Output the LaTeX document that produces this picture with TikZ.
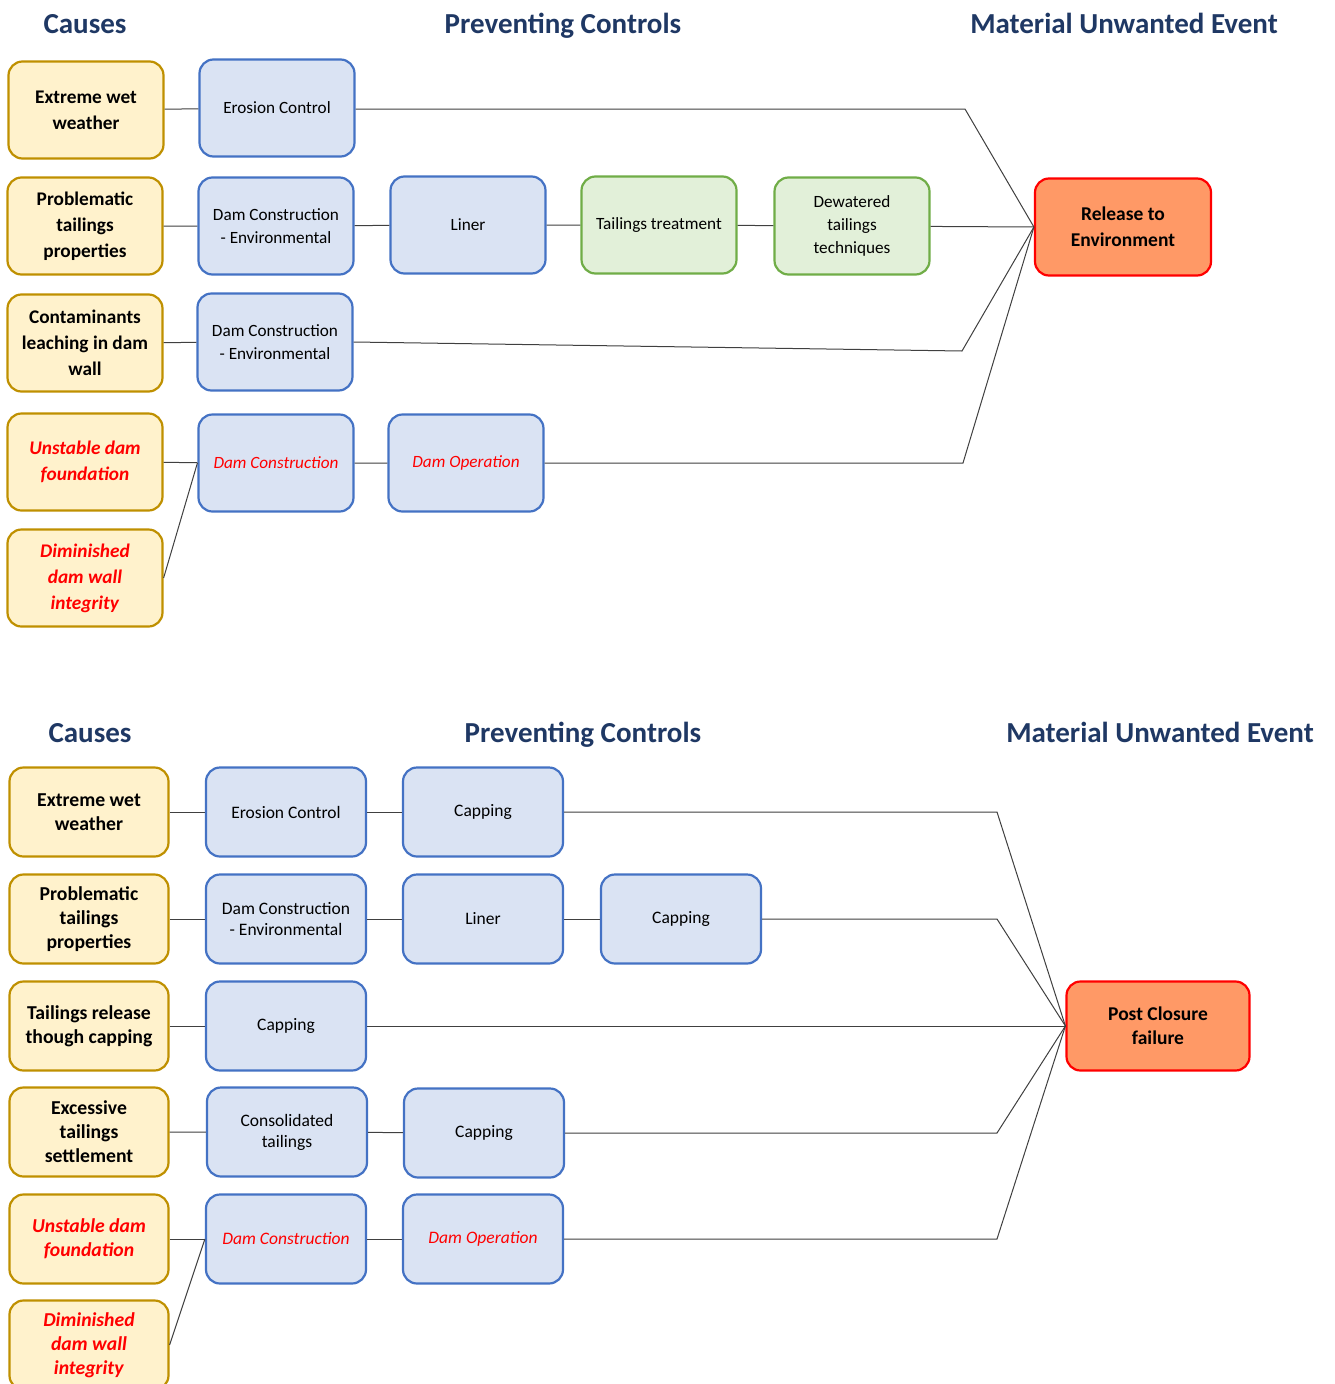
\documentclass[tikz,border=0pt]{standalone}
\usepackage{fontspec}
\setmainfont{Carlito}
\usetikzlibrary{positioning}
\definecolor{causefill}{HTML}{FFF2CC}
\definecolor{causedraw}{HTML}{BF9000}
\definecolor{ctrlfill}{HTML}{DAE3F3}
\definecolor{ctrldraw}{HTML}{4472C4}
\definecolor{greenfill}{HTML}{E2F0D9}
\definecolor{greendraw}{HTML}{70AD47}
\definecolor{eventfill}{HTML}{FF9966}
\definecolor{titleblue}{HTML}{1F3864}
\tikzset{
  box/.style={rectangle, rounded corners=14pt, line width=2.2pt, align=center, inner sep=2pt},
  cause/.style={box, fill=causefill, draw=causedraw, minimum width=155pt, minimum height=97pt,
                font=\fontsize{19.3}{26}\selectfont\bfseries},
  ctrl/.style={box, fill=ctrlfill, draw=ctrldraw, minimum width=155pt, minimum height=97pt,
               font=\fontsize{17.2}{23}\selectfont},
  green/.style={ctrl, fill=greenfill, draw=greendraw},
  event/.style={box, fill=eventfill, draw=red, minimum width=176pt, minimum height=97pt,
                font=\fontsize{19.5}{26}\selectfont\bfseries},
  causeB/.style={cause, minimum width=159pt, minimum height=89pt, font=\fontsize{19.7}{24}\selectfont\bfseries},
  ctrlB/.style={ctrl, minimum width=160pt, minimum height=89pt, font=\fontsize{17.5}{21}\selectfont},
  eventB/.style={event, minimum width=183pt, minimum height=89pt, font=\fontsize{19.5}{24}\selectfont\bfseries},
  risk/.style={text=red},
  heading/.style={text=titleblue, anchor=base, font=\fontsize{29}{34}\selectfont\bfseries},
  wire/.style={draw=black!75, line width=1pt}
}
\begin{document}
\begin{tikzpicture}[x=1pt,y=-1pt]
\clip (0,0) rectangle (1334,1384);
\fill[white] (0,0) rectangle (1334,1384);

% --- release to environment
\node[heading] (hcause) at (85,33) {Causes};
\node[heading] (hctrl) at (563,33) {Preventing Controls};
\node[heading] (hmue) at (1124,33) {Material Unwanted Event};

\node[cause] (wet) at (86,110) {Extreme wet\\weather};
\node[cause] (tail) at (85,226) {Problematic\\tailings\\properties};
\node[cause] (leach) at (85,343) {Contaminants\\leaching in dam\\wall};
\node[cause, risk] (unst) at (85,462) {\textit{Unstable dam}\\\textit{foundation}};
\node[cause, risk] (dimi) at (85,578) {\textit{Diminished}\\\textit{dam wall}\\\textit{integrity}};

\node[ctrl] (erosion) at (277,108) {Erosion Control};
\node[ctrl] (damenv) at (276,226) {Dam Construction\\- Environmental};
\node[ctrl] (liner) at (468,225) {Liner};
\node[green] (treat) at (659,225) {Tailings treatment};
\node[green] (dewat) at (852,226) {Dewatered\\tailings\\techniques};
\node[ctrl] (damenvb) at (275,342) {Dam Construction\\- Environmental};
\node[ctrl, risk] (damcon) at (276,463) {\textit{Dam Construction}};
\node[ctrl, risk] (damop) at (466,463) {\textit{Dam Operation}};

\node[event] (rel) at (1123,227) {Release to\\Environment};

\coordinate (k1) at (965,109);
\coordinate (k3) at (962,351);
\coordinate (k4) at (963,463);

\draw[wire] (wet) -- (erosion);
\draw[wire] (tail) -- (damenv) -- (liner) -- (treat) -- (dewat);
\draw[wire] (leach) -- (damenvb);
\draw[wire] (unst) -- (damcon) -- (damop);
\draw[wire] (dimi.east) -- (damcon.west);
\draw[wire] (erosion.east |- k1) -- (k1) -- (rel.west);
\draw[wire] (dewat) -- (rel.west);
\draw[wire] (damenvb.east) -- (k3) -- (rel.west);
\draw[wire] (damop.east |- k4) -- (k4) -- (rel.west);

% --- post closure failure
\node[heading] (hcauseb) at (90,742) {Causes};
\node[heading] (hctrlb) at (583,742) {Preventing Controls};
\node[heading] (hmueb) at (1160,742) {Material Unwanted Event};

\node[causeB] (wetb) at (89,812) {Extreme wet\\weather};
\node[causeB] (tailb) at (89,919) {Problematic\\tailings\\properties};
\node[causeB] (capb) at (89,1026) {Tailings release\\though capping};
\node[causeB] (settb) at (89,1132) {Excessive\\tailings\\settlement};
\node[causeB, risk] (unstb) at (89,1239) {\textit{Unstable dam}\\\textit{foundation}};
\node[causeB, risk] (dimib) at (89,1345) {\textit{Diminished}\\\textit{dam wall}\\\textit{integrity}};

\node[ctrlB] (erosionb) at (286,812) {Erosion Control};
\node[ctrlB] (capa) at (483,812) {Capping};
\node[ctrlB] (damenvc) at (286,919) {Dam Construction\\- Environmental};
\node[ctrlB] (linerb) at (483,919) {Liner};
\node[ctrlB] (capc) at (681,919) {Capping};
\node[ctrlB] (capd) at (286,1026) {Capping};
\node[ctrlB] (consol) at (287,1132) {Consolidated\\tailings};
\node[ctrlB] (cape) at (484,1133) {Capping};
\node[ctrlB, risk] (damconb) at (286,1239) {\textit{Dam Construction}};
\node[ctrlB, risk] (damopb) at (483,1239) {\textit{Dam Operation}};

\node[eventB] (pcf) at (1158,1026) {Post Closure\\failure};

\coordinate (m1) at (997,812);
\coordinate (m2) at (997,919);
\coordinate (m4) at (997,1133);
\coordinate (m5) at (997,1239);

\draw[wire] (wetb) -- (erosionb) -- (capa);
\draw[wire] (tailb) -- (damenvc) -- (linerb) -- (capc);
\draw[wire] (capb) -- (capd);
\draw[wire] (settb) -- (consol) -- (cape);
\draw[wire] (unstb) -- (damconb) -- (damopb);
\draw[wire] (dimib.east) -- (damconb.west);
\draw[wire] (capa.east |- m1) -- (m1) -- (pcf.west);
\draw[wire] (capc.east |- m2) -- (m2) -- (pcf.west);
\draw[wire] (capd.east) -- (pcf.west);
\draw[wire] (cape.east |- m4) -- (m4) -- (pcf.west);
\draw[wire] (damopb.east |- m5) -- (m5) -- (pcf.west);
\end{tikzpicture}
\end{document}
